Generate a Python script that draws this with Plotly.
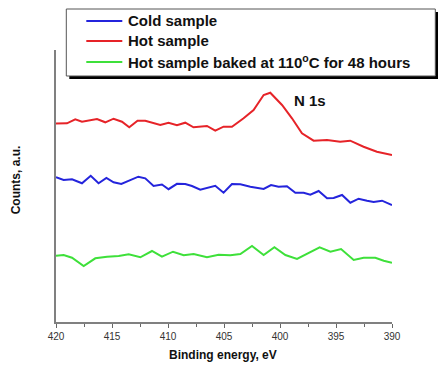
import plotly.graph_objects as go

# ---- data ----
cold_e = [420.0, 419.32, 418.57, 417.68, 416.9, 416.2, 415.5, 414.86, 414.17, 412.65, 412.03, 411.29,
          410.54, 409.95, 409.2, 408.46, 407.86, 407.12, 405.78, 405.04, 404.29, 403.54, 402.65, 401.46,
          400.8, 400.13, 399.38, 398.63, 397.89, 397.29, 396.55, 395.8, 395.21, 394.46, 393.72, 392.98,
          392.23, 391.64, 390.89, 390.0]
cold_c = [144.7, 142, 142.7, 138.7, 146.2, 138.7, 144, 139.7, 138, 145.3, 143.7, 136,
          137.5, 132.8, 138.2, 138, 136, 132.4, 136.2, 129.3, 138, 137.7, 135.3, 133,
          137, 135.3, 135.7, 129.3, 129.3, 127.3, 131, 123.7, 124, 127, 119.3, 123.3,
          121.3, 120, 121.3, 117]

hot_e = [420.0, 419.02, 418.28, 417.68, 416.34, 415.6, 414.86, 414.11, 413.46, 412.72, 412.03, 410.69,
         409.95, 409.2, 408.46, 407.72, 406.52, 405.78, 405.04, 404.29, 403.25, 402.36, 401.46, 400.87,
         399.82, 398.93, 398.04, 397.0, 395.8, 394.63, 393.73, 392.54, 391.35, 390.0]
hot_c = [198.5, 198.7, 202.7, 200.3, 203, 199.7, 203.3, 200.3, 194.7, 201.3, 201.3, 197,
         199.3, 196.7, 199.3, 194.7, 196, 191.3, 195.3, 195.3, 203.7, 212, 227, 229.3,
         217, 203.7, 188.7, 181.3, 182, 180.3, 181.3, 175.3, 170.3, 167]

baked_e = [420.0, 419.32, 418.57, 417.53, 416.49, 415.44, 414.4, 413.51, 412.47, 411.43, 410.54, 409.55,
           408.6, 407.71, 406.52, 405.48, 404.44, 403.54, 402.5, 401.46, 400.5, 399.52, 398.48, 397.44,
           396.46, 395.5, 394.55, 393.42, 392.53, 391.49, 390.74, 390.0]
baked_c = [66.3, 67, 64.3, 56, 63.7, 65.3, 66, 67.7, 64.7, 71, 65.3, 70.3,
           66.7, 68, 64.7, 67.3, 66.7, 68, 76, 67, 74.7, 67, 63, 68.7,
           74.7, 70.3, 73, 62, 64.3, 64.3, 61.3, 59.3]

series_names = ["Cold sample", "Hot sample", "Hot sample baked at 110<sup>o</sup>C for 48 hours"]
series_colors = ["#2424dc", "#e62328", "#3ee03a"]
tick_vals = [420, 415, 410, 405, 400, 395, 390]
tick_text = ["420", "415", "410", "405", "400", "395", "390"]

# ---- layout geometry (pixels in the reference; page body adds an 8px offset) ----
OFF = 8
W, H = 446 - OFF, 365 - OFF
L, R, T, B = 55.7 - OFF, 391.7 - OFF, 50 - OFF, 322 - OFF
def px(x):
    return (x - OFF - L) / (R - L)
def py(y):
    return (B - (y - OFF)) / (B - T)

FONT = "Liberation Sans, Arial, sans-serif"

fig = go.Figure()
for e, c, name, col in zip([cold_e, hot_e, baked_e], [cold_c, hot_c, baked_c], series_names, series_colors):
    fig.add_trace(go.Scatter(x=e, y=c, mode="lines", name=name,
                             line=dict(color=col, width=2), showlegend=False))

shapes = []
# legend shadow and box
shapes.append(dict(type="rect", xref="paper", yref="paper", x0=px(69), x1=px(438), y0=py(12), y1=py(79),
                   fillcolor="#000000", line=dict(width=0), layer="above"))
shapes.append(dict(type="rect", xref="paper", yref="paper", x0=px(66), x1=px(435), y0=py(9), y1=py(76),
                   fillcolor="#ffffff", line=dict(color="#555555", width=1), layer="above"))
annotations = []
rows = [21, 41, 62]
for ry, name, col in zip(rows, series_names, series_colors):
    shapes.append(dict(type="line", xref="paper", yref="paper", x0=px(86), x1=px(122), y0=py(ry), y1=py(ry),
                       line=dict(color=col, width=2), layer="above"))
    annotations.append(dict(xref="paper", yref="paper", x=px(126), y=py(ry), text="<b>%s</b>" % name,
                            showarrow=False, xanchor="left", yanchor="middle",
                            font=dict(family=FONT, size=15, color="#111111")))

annotations.append(dict(xref="x", yref="y", x=398.9, y=222, text="<b>N 1s</b>", showarrow=False,
                        xanchor="left", yanchor="middle", font=dict(family=FONT, size=15, color="#111111")))
annotations.append(dict(xref="paper", yref="paper", x=px(16), y=py(180), text="<b>Counts, a.u.</b>",
                        textangle=-90, showarrow=False, xanchor="center", yanchor="middle",
                        font=dict(family=FONT, size=12, color="#111111")))
annotations.append(dict(xref="paper", yref="paper", x=px(223), y=py(355), text="<b>Binding energy, eV</b>",
                        showarrow=False, xanchor="center", yanchor="middle",
                        font=dict(family=FONT, size=12, color="#111111")))

fig.update_layout(
    width=W, height=H,
    margin=dict(l=L, r=W - R, t=T, b=H - B),
    paper_bgcolor="white", plot_bgcolor="white",
    shapes=shapes, annotations=annotations,
    xaxis=dict(range=[420, 390], tickvals=tick_vals, ticktext=tick_text, ticks="outside", ticklen=4,
               tickwidth=1, tickcolor="#666666", showline=True, linecolor="#808080", linewidth=1.5,
               showgrid=False, zeroline=False, tickfont=dict(family=FONT, size=10, color="#333333"),
               minor=dict(dtick=2.5, tick0=420, ticks="outside", ticklen=3, tickcolor="#666666", showgrid=False)),
    yaxis=dict(range=[0, 272], showline=True, linecolor="#808080", linewidth=1.5, showticklabels=False,
               ticks="", showgrid=False, zeroline=False),
)

fig.write_html("out.html")
